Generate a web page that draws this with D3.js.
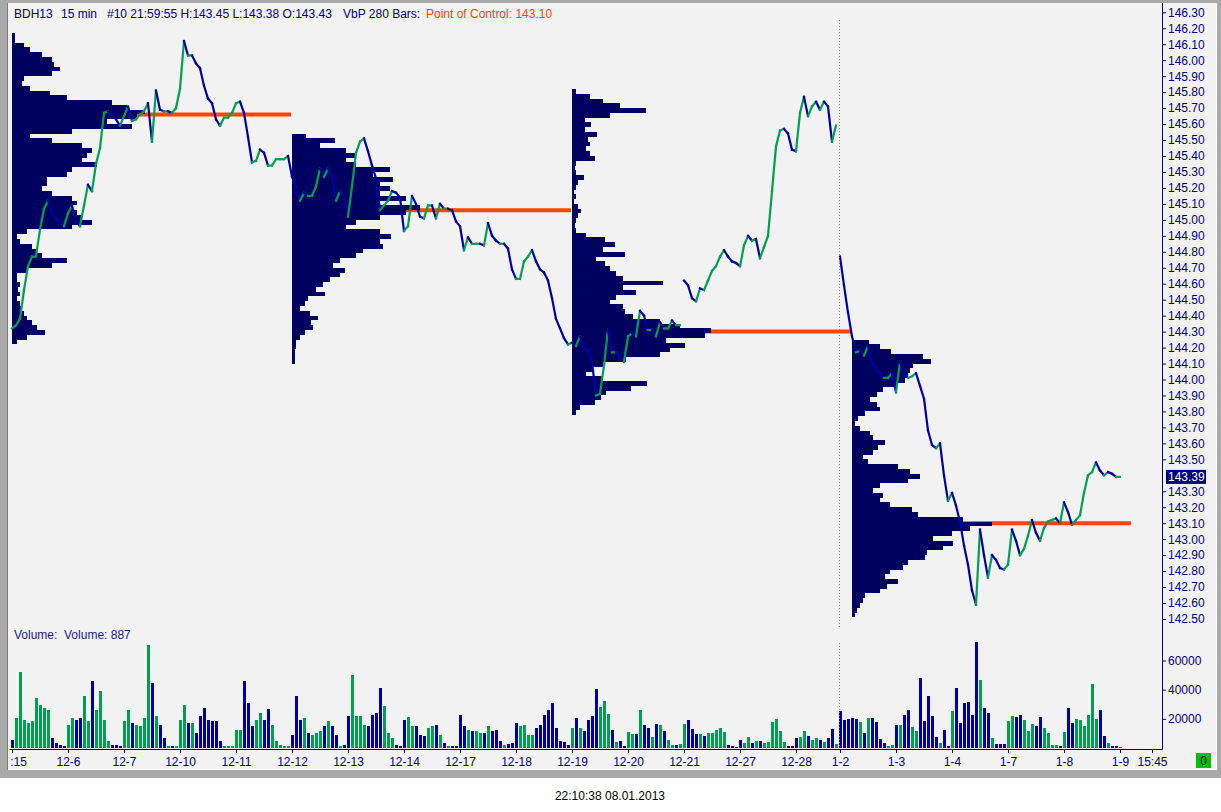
<!DOCTYPE html>
<html>
<head>
<meta charset="utf-8">
<script src="https://cdn.jsdelivr.net/npm/d3@7"></script>
<style>
  body { margin: 0; background: #fff; }
  svg { display: block; font-family: "Liberation Sans", Arial, sans-serif; }
</style>
</head>
<body>
<svg id="chart" width="1221" height="812"></svg>
<script>
// ---- data (15 min samples, one every ~4 bars) ----
const closes = [
  144.32,144.34,144.38,144.56,144.71,144.77,144.77,144.94,145.07,145.12,
  145.04,145.01,144.99,144.96,145.04,145.09,144.99,144.96,145.09,145.22,
  145.18,145.35,145.45,145.67,145.68,145.66,145.63,145.59,145.65,145.71,
  145.62,145.63,145.66,145.68,145.73,145.49,145.81,145.69,145.68,145.68,
  145.67,145.70,145.82,146.12,146.03,146.03,145.98,145.95,145.84,145.76,
  145.73,145.63,145.59,145.64,145.64,145.67,145.73,145.74,145.67,145.52,
  145.36,145.37,145.44,145.42,145.34,145.34,145.38,145.38,145.38,145.40,
  145.27,145.21,145.12,145.17,145.15,145.15,145.21,145.32,145.27,145.32,
  145.27,145.12,145.18,145.15,145.02,145.21,145.42,145.49,145.51,145.43,
  145.34,145.26,145.06,145.09,145.12,145.18,145.17,145.14,144.93,144.96,
  145.15,145.10,145.02,145.01,145.09,145.09,145.01,145.10,145.07,145.07,
  145.06,144.99,144.96,144.81,144.89,144.85,144.85,144.85,144.84,144.98,
  144.90,144.87,144.85,144.85,144.82,144.69,144.63,144.63,144.74,144.77,
  144.81,144.74,144.69,144.67,144.62,144.51,144.38,144.32,144.26,144.22,
  144.23,144.21,144.27,144.19,144.18,144.11,143.90,143.91,144.09,144.31,
  144.17,144.17,144.14,144.11,144.27,144.29,144.27,144.43,144.40,144.31,
  144.31,144.27,144.36,144.32,144.32,144.37,144.34,144.34,144.62,144.59,
  144.51,144.49,144.57,144.56,144.62,144.68,144.71,144.77,144.81,144.77,
  144.74,144.73,144.71,144.84,144.90,144.87,144.88,144.76,144.83,144.90,
  145.18,145.46,145.56,145.57,145.54,145.44,145.43,145.67,145.77,145.65,
  145.71,145.74,145.69,145.74,145.71,145.49,145.59,144.77,144.59,144.42,
  144.27,144.17,144.18,144.15,144.21,144.11,144.06,144.04,144.01,144.01,
  144.04,143.92,144.11,144.04,144.01,144.02,144.04,143.96,143.88,143.68,
  143.59,143.57,143.60,143.40,143.24,143.29,143.21,143.11,142.96,142.84,
  142.68,142.59,143.06,142.90,142.76,142.90,142.87,142.82,142.81,142.84,
  143.06,142.99,142.90,142.94,143.02,143.12,143.04,142.99,143.07,143.11,
  143.12,143.13,143.10,143.23,143.17,143.09,143.12,143.15,143.29,143.40,
  143.42,143.48,143.43,143.40,143.42,143.41,143.39,143.39
];

const volumes = [
  5500,20700,51800,19300,17300,18600,34500,29700,27600,26200,
  6900,3500,2100,1400,15900,20700,19300,20700,35900,18600,
  46200,26200,39300,19300,4800,2100,2100,1400,18600,26200,
  17300,15900,15200,20700,70400,44900,22100,15900,6900,1400,
  1400,1400,19300,29700,17300,17300,10400,22100,27600,19300,
  18600,18600,4800,1400,1400,1400,12400,12400,46200,31100,
  15200,19300,24200,19300,26900,15900,4800,2100,1400,1400,
  9000,35900,19300,20700,10400,9000,10400,11700,15200,18600,
  15200,9000,1400,2100,22100,50400,22100,22100,15900,15200,
  22800,24200,41400,29000,10400,6900,2100,1400,19300,21400,
  15200,15200,9000,8300,13800,15200,15900,9000,3500,1400,
  1400,1400,22800,15200,12400,11700,11700,10400,10400,15200,
  11700,12400,4800,2100,2800,3500,17300,15200,15900,9000,
  9000,13800,15900,22800,26200,31100,13800,4800,4100,2100,
  13800,20700,13800,11700,19300,22100,40700,28300,32400,23500,
  12400,4100,4800,1400,11000,9700,9700,26200,15900,13800,
  7600,16600,15900,11700,5500,2100,2100,2800,16600,19300,
  13100,9700,9700,8300,10400,10400,12400,13800,11000,2100,
  1400,700,5500,3500,7600,3500,4800,4800,3500,4100,
  17900,20000,11700,4100,1400,1400,6900,7600,11700,8300,
  5500,6900,5500,4100,6900,13100,2800,25500,19300,20000,
  20700,20000,17900,10400,20700,20700,17900,6200,3500,1400,
  2100,15900,15900,22800,26200,14500,11700,48300,18600,35900,
  22100,7600,3500,12400,1400,25500,41400,17300,31100,31700,
  22800,72500,46900,27600,24200,6900,2800,2800,2800,18600,
  22100,21400,22800,19300,11700,16600,15200,21400,13800,10400,
  2100,2100,1400,11000,27600,17300,20000,19300,15200,22800,
  44200,20000,26200,8300,3500,1400,1400,887
];

// sessions where the line jumps (no connecting stroke)
const gaps = [168, 207];

// volume-by-price profiles, 280 bars each, bins of 0.03 from the top price down
const profileStart = [0, 70, 140, 210];
const profileEnd = [70, 140, 210, 280];
const profileTop = [146.17, 145.54, 145.82, 144.25];
const binSize = 0.03;
const profile1 = [3,3,12,18,30,40,42,48,40,12,10,18,38,55,100,115,133,125,95,120,60,18,40,70,80,75,70,85,60,55,35,35,30,40,60,65,60,65,70,80,60,15,5,8,20,25,30,55,40,15,5,5,8,6,8,5,8,10,12,15,20,25,33,15,5];
const profile2 = [14,43,28,54,64,54,64,98,81,101,88,98,88,114,88,128,114,88,64,54,88,99,88,91,71,64,48,41,53,48,38,31,24,33,16,13,8,18,26,19,21,13,8,4,4,3,3,3];
const profile3 = [4,18,31,48,74,38,13,19,13,25,16,18,14,18,23,4,3,4,12,6,4,2,4,2,6,9,6,4,3,4,14,33,43,31,53,24,33,38,44,51,91,51,64,44,38,51,53,61,88,108,139,133,94,113,98,88,54,31,21,14,31,75,59,34,29,23,8,4];
const profile4 = [17,28,39,71,79,61,58,56,53,45,31,25,18,25,28,13,6,3,8,18,21,33,26,21,11,16,46,58,68,56,28,21,31,28,38,60,66,111,140,118,100,81,101,91,75,73,56,51,38,33,46,35,28,13,11,8,5,3];
const pocPrice = [145.66, 145.06, 144.30, 143.10];

// axis ticks
const tickIdx = [0,14,28,42,56,70,84,98,112,126,140,154,168,182,196,207,221,235,249,263,277,285];
const tickLabels = [":15","12-6","12-7","12-10","12-11","12-12","12-13","12-14","12-17","12-18","12-19","12-20","12-21","12-27","12-28","1-2","1-3","1-4","1-7","1-8","1-9","15:45"];
const priceTicks = [142.5,142.6,142.7,142.8,142.9,143.0,143.1,143.2,143.3,143.4,143.5,143.6,143.7,143.8,143.9,144.0,144.1,144.2,144.3,144.4,144.5,144.6,144.7,144.8,144.9,145.0,145.1,145.2,145.3,145.4,145.5,145.6,145.7,145.8,145.9,146.0,146.1,146.2,146.3];
const volTicks = [20000, 40000, 60000];
const lastPrice = 143.39;

// ---- drawing ----
const blue = "#0000a0", green = "#00a050", navy = "#000080", profFill = "#000060", pocColor = "#ff4500";
const svg = d3.select("#chart");

// window frame
svg.append("rect").attr("x",0).attr("y",0).attr("width",1221).attr("height",778).attr("fill","#a9a9a9");
svg.append("rect").attr("x",8).attr("y",3).attr("width",1209).attr("height",767).attr("fill","#f2f2f2");
svg.append("line").attr("x1",7.5).attr("x2",7.5).attr("y1",3).attr("y2",770).attr("stroke","#7c7c7c");
svg.append("line").attr("x1",8).attr("x2",1217).attr("y1",769.5).attr("y2",769.5).attr("stroke","#ffffff");
svg.append("line").attr("x1",1216.5).attr("x2",1216.5).attr("y1",3).attr("y2",770).attr("stroke","#ffffff");

// scales
const x = d3.scaleLinear().domain([-0.75, 287.5]).range([9, 1162]);
const y = d3.scaleLinear().domain([142.5, 146.3]).range([619, 12.3]);
const yv = d3.scaleLinear().domain([0, 60000]).range([748, 660.5]);

svg.append("clipPath").attr("id","plot").append("rect")
  .attr("x",9).attr("y",3).attr("width",1153).attr("height",746);
const g = svg.append("g").attr("clip-path","url(#plot)");

// point of control lines
g.selectAll("line.poc").data(pocPrice).join("line")
  .attr("class","poc")
  .attr("x1",(d,p)=>x(profileStart[p]))
  .attr("x2",(d,p)=>x(profileEnd[p])-1)
  .attr("y1",d=>y(d)).attr("y2",d=>y(d))
  .attr("stroke",pocColor).attr("stroke-width",4);

// profiles
const profiles = [profile1, profile2, profile3, profile4];
const wScale = d3.scaleLinear().domain([0, d3.max(profiles.flat())]).range([0, 140]);
profiles.forEach((bins, p) => {
  g.append("g").selectAll("rect").data(bins).join("rect")
    .attr("x", x(profileStart[p]))
    .attr("y", (d,k)=>y(profileTop[p]-k*binSize))
    .attr("height", (d,k)=>y(profileTop[p]-(k+1)*binSize)-y(profileTop[p]-k*binSize))
    .attr("width", d=>wScale(d))
    .attr("fill", profFill)
    .attr("shape-rendering","crispEdges");
});

// price line, coloured by direction
const segs = d3.range(1, closes.length).filter(i=>!gaps.includes(i));
g.selectAll("line.px").data(segs).join("line")
  .attr("class","px")
  .attr("x1",i=>x(i-1)).attr("y1",i=>y(closes[i-1]))
  .attr("x2",i=>x(i)).attr("y2",i=>y(closes[i]))
  .attr("stroke",i=>closes[i]>=closes[i-1]?green:blue)
  .attr("stroke-width",2.2)
  .attr("stroke-linecap","square");

// volume bars
g.selectAll("rect.vol").data(volumes).join("rect")
  .attr("class","vol")
  .attr("x",(d,i)=>x(i)-1.5).attr("width",3)
  .attr("y",d=>yv(d)).attr("height",d=>yv(0)-yv(d))
  .attr("fill",(d,i)=>i>0 && closes[i]>=closes[i-1]?green:blue)
  .attr("shape-rendering","crispEdges");

// year separator
const sepX = Math.round(x(206.75)) + 0.5;
[[20,628],[643,748]].forEach(([a,b])=>{
  svg.append("line").attr("x1",sepX).attr("x2",sepX).attr("y1",a).attr("y2",b)
    .attr("stroke","#808080").attr("stroke-dasharray","1,2");
});

// right axis line
svg.append("line").attr("x1",1162.5).attr("x2",1162.5).attr("y1",3).attr("y2",749.5)
  .attr("stroke",navy);

function styleAxis(sel){
  sel.select(".domain").remove();
  sel.selectAll(".tick line").attr("stroke",navy);
  sel.selectAll(".tick text").attr("fill",navy).style("font-size","12px")
    .style("font-family","'Liberation Sans', Arial, sans-serif");
}

const yAxis = d3.axisRight(y)
  .tickValues(priceTicks.filter(t=>Math.abs(t-lastPrice)>0.05))
  .tickFormat(d3.format(".2f")).tickSize(4).tickPadding(2);
svg.append("g").attr("transform","translate(1162,0)").call(yAxis).call(styleAxis);

const vAxis = d3.axisRight(yv).tickValues(volTicks).tickFormat(d3.format("d")).tickSize(4).tickPadding(2);
svg.append("g").attr("transform","translate(1162,0)").call(vAxis).call(styleAxis);

const xAxis = d3.axisBottom(x).tickValues(tickIdx).tickFormat((d,i)=>tickLabels[i])
  .tickSize(4).tickSizeOuter(0).tickPadding(4.5);
const xg = svg.append("g").attr("transform","translate(0,749)").call(xAxis);
xg.select(".domain").attr("stroke",navy);
xg.selectAll(".tick line").attr("stroke",navy);
xg.selectAll(".tick text").attr("fill",navy).style("font-size","12px")
  .style("font-family","'Liberation Sans', Arial, sans-serif");
xg.selectAll(".tick text").filter((d,i)=>i===0).attr("dx",6);

// last price marker
const lp = svg.append("g").attr("transform",`translate(1166,${y(lastPrice)})`);
lp.append("rect").attr("x",0).attr("y",-7).attr("width",40).attr("height",14).attr("fill",navy);
lp.append("text").attr("x",2).attr("dy","0.35em").attr("fill","#ffffff")
  .style("font-size","12px").text(d3.format(".2f")(lastPrice));

// header
const hdr = svg.append("g").style("font-size","12px");
[["BDH13",14,navy],["15 min",61,navy],["#10 21:59:55 H:143.45 L:143.38 O:143.43",107,navy],
 ["VbP 280 Bars:",343,navy],["Point of Control: " + d3.format(".2f")(pocPrice[3]),426,pocColor]]
  .forEach(([t,px,c])=>hdr.append("text").attr("x",px).attr("y",18).attr("fill",c).text(t));

svg.append("text").attr("x",14).attr("y",639).attr("fill","#1a1a8c").style("font-size","12px")
  .style("white-space","pre").text("Volume:  Volume: " + volumes[volumes.length-1]);

// status box
svg.append("rect").attr("x",1196).attr("y",753).attr("width",15).attr("height",15).attr("fill","#00c000");
svg.append("text").attr("x",1203.5).attr("y",765).attr("text-anchor","middle").attr("fill","#000060")
  .style("font-size","12px").text("0");

// timestamp below the window
svg.append("text").attr("x",610).attr("y",800).attr("text-anchor","middle").attr("fill","#000")
  .style("font-size","12px").text("22:10:38 08.01.2013");
</script>
</body>
</html>
